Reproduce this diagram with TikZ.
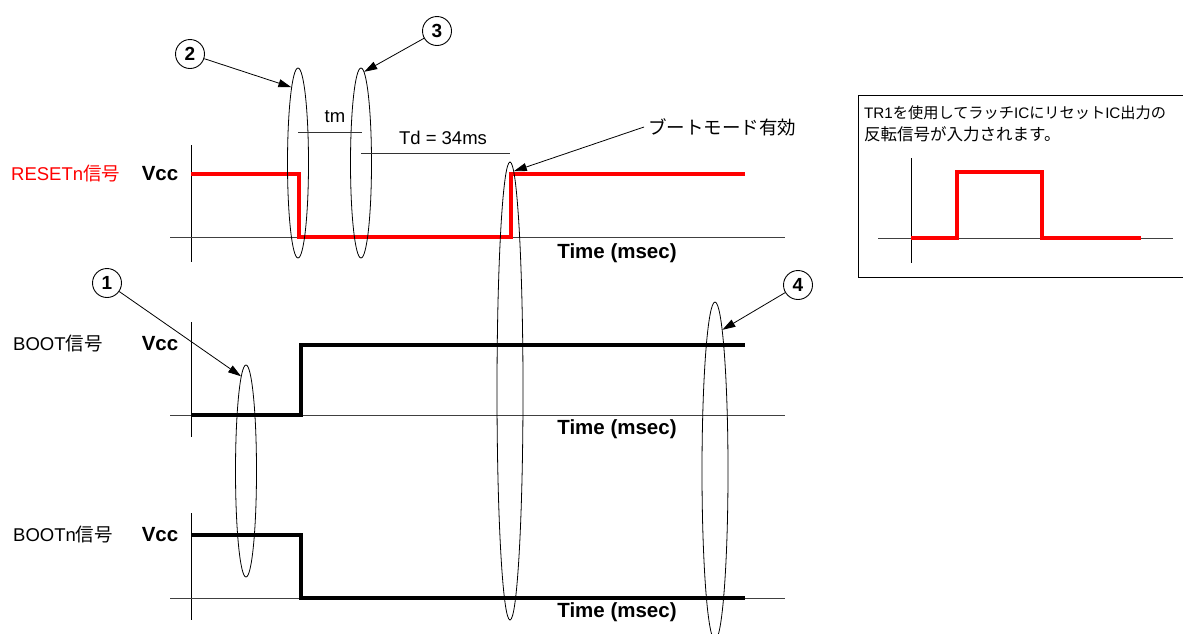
\documentclass[tikz,border=0pt]{standalone}
\usepackage{fontspec}
\setmainfont{Liberation Sans}
\newfontfamily\jp{Noto Sans CJK JP}
\usetikzlibrary{shapes.geometric,arrows.meta}
\begin{document}
\begin{tikzpicture}[x=1pt,y=-1pt,
  lbl/.style={font=\fontsize{18.5}{21}\selectfont, inner sep=1pt},
  blbl/.style={font=\fontsize{20.5}{23}\selectfont\bfseries, inner sep=1pt},
  axis/.style={draw=black!75, line width=0.9pt},
  vaxis/.style={draw=black, line width=0.9pt},
  redsig/.style={draw=red, line width=3.6pt, line join=miter},
  blksig/.style={draw=black, line width=3.6pt, line join=miter},
  ring/.style={draw, ellipse, inner sep=0pt, line width=0.8pt},
  num/.style={draw, circle, minimum size=29pt, inner sep=0pt, line width=0.9pt, font=\fontsize{19}{21}\selectfont\bfseries},
  pointer/.style={draw, line width=0.8pt, -{Triangle[length=13pt,width=8pt]}},
  dim/.style={draw=black!80, line width=0.8pt}
]
\useasboundingbox (0,0) rectangle (1183,633);
\fill[white] (0,0) rectangle (1183,633);

% ---------- RESET panel ----------
\draw[vaxis] (191,145) -- (191,262);
\draw[axis] (170,237) -- (785,237);
\draw[redsig] (191,174) -- (299,174) -- (299,237) -- (511,237) -- (511,174) -- (745,174);
\node[lbl, text=red, anchor=west] (rl) at (10,174) {RESETn{\jp 信号}};
\node[blbl] (v1) at (160,174) {Vcc};
\node[blbl] (t1) at (617,253) {Time (msec)};

% ---------- BOOT panel ----------
\draw[vaxis] (191,322) -- (191,437);
\draw[axis] (170,415) -- (785,415);
\draw[blksig] (191,415) -- (301,415) -- (301,345) -- (745,345);
\node[lbl, anchor=west] (bl) at (12,344) {BOOT{\jp 信号}};
\node[blbl] (v2) at (160,344) {Vcc};
\node[blbl] (t2) at (617,429) {Time (msec)};

% ---------- BOOTn panel ----------
\draw[vaxis] (191,513) -- (191,620);
\draw[axis] (170,598) -- (785,598);
\draw[blksig] (191,535) -- (301,535) -- (301,598) -- (745,598);
\node[lbl, anchor=west] (bnl) at (12,535) {BOOTn{\jp 信号}};
\node[blbl] (v3) at (160,535) {Vcc};
\node[blbl] (t3) at (617,612) {Time (msec)};

% ---------- ellipses ----------
\node[ring, minimum width=21pt, minimum height=190pt] (e2) at (298,163) {};
\node[ring, minimum width=21pt, minimum height=190pt] (e3) at (361,163) {};
\node[ring, minimum width=21pt, minimum height=212pt] (e1) at (246,471) {};
\node[ring, minimum width=26pt, minimum height=458pt] (eb) at (510,391) {};
\node[ring, minimum width=26pt, minimum height=338pt] (e4) at (715,471) {};

% ---------- dimension lines ----------
\draw[dim] (298,132) -- (362,132);
\node[lbl] (tm) at (335,117) {tm};
\draw[dim] (361,153) -- (510,153);
\node[lbl] (td) at (443,138) {Td = 34ms};

% ---------- circled numbers ----------
\node[num] (c1) at (107,283) {1};
\node[num] (c2) at (190,54) {2};
\node[num] (c3) at (437,31) {3};
\node[num] (c4) at (798,285) {4};

\draw[pointer] (c1) -- (e1.93);
\draw[pointer] (c2) -- (e2.95);
\draw[pointer] (c3) -- (e3.88);
\draw[pointer] (c4) -- (e4.87.5);

\node[lbl, anchor=west, inner sep=4pt] (bm) at (644,127) {\jp ブートモード有効};
\draw[pointer] (bm.west) -- (eb.89.5);

% ---------- inset ----------
\draw[line width=0.9pt] (858,95) rectangle (1195,277);
\node[anchor=west, inner sep=0pt, font=\fontsize{15.2}{18}\selectfont] (n1) at (864,113) {TR1{\jp を使用してラッチ}IC{\jp に}{\jp リセット}IC{\jp 出力の}};
\node[anchor=west, inner sep=0pt, font=\fontsize{16.5}{19}\selectfont\jp] (n2) at (864,134) {反転信号が入力されます。};
\draw[vaxis] (911,158) -- (911,263);
\draw[axis] (878,238) -- (1173,238);
\draw[redsig] (911,238) -- (957,238) -- (957,172) -- (1042,172) -- (1042,238) -- (1141,238);
\end{tikzpicture}
\end{document}
